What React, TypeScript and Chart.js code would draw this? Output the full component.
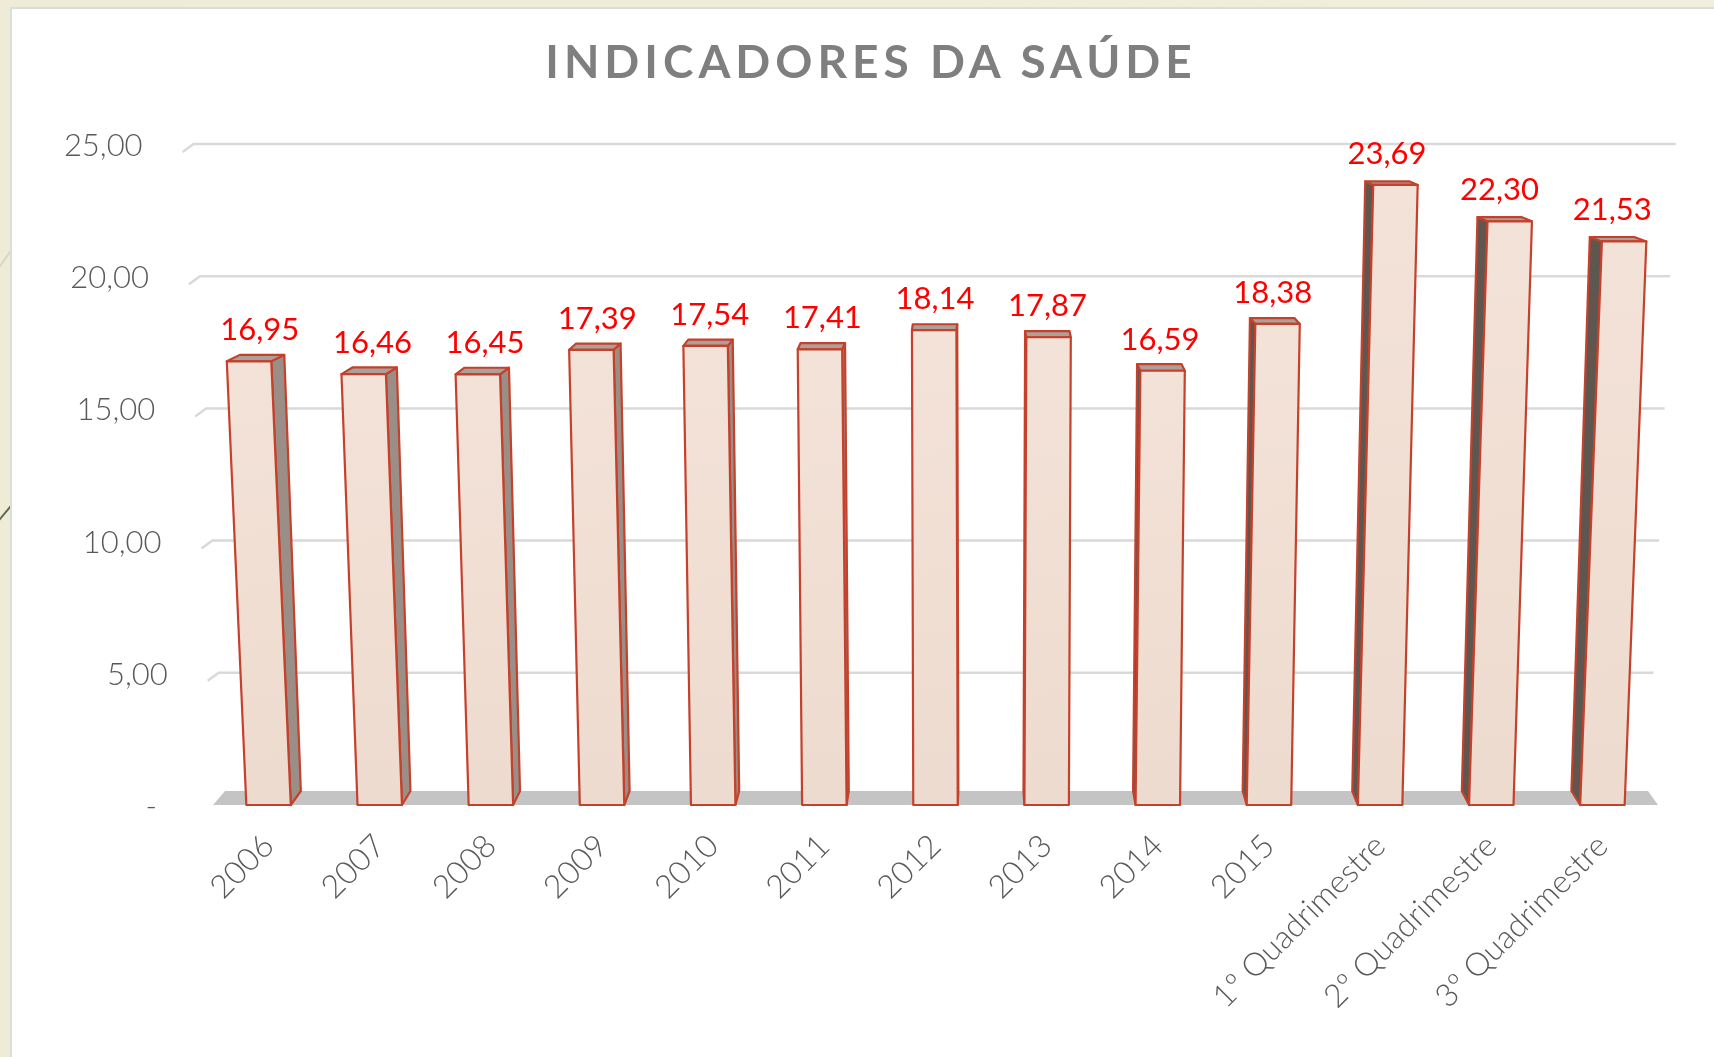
import React, { useEffect, useRef } from "react";
import { Chart, registerables } from "chart.js";

Chart.register(...registerables);

const categories = [
  "2006", "2007", "2008", "2009", "2010", "2011", "2012", "2013", "2014", "2015",
  "1º Quadrimestre", "2º Quadrimestre", "3º Quadrimestre",
];
const values = [16.95, 16.46, 16.45, 17.39, 17.54, 17.41, 18.14, 17.87, 16.59, 18.38, 23.69, 22.3, 21.53];
const yTicks = [0, 5, 10, 15, 20, 25];
const chartTitle = "INDICADORES DA SAÚDE";

const fmt = (v: number) => v.toFixed(2).replace(".", ",");

const LEAN = 0.0000619; // perspective lean
const K = 0.0141; // depth x offset factor
const K2 = 0.00067;
const FRONT = 0.99; // front face slightly in front of back wall

const centerX = (chart: any) => (chart.chartArea.left + chart.chartArea.right) / 2 + 45;

const bar3d = {
  id: "bar3d",
  beforeDatasetsDraw(chart: any) {
    const { ctx, chartArea, scales } = chart;
    const y = scales.y;
    const base = y.getPixelForValue(0);
    const cx = centerX(chart);
    ctx.save();
    // floor
    ctx.fillStyle = "#C4C4C4";
    ctx.beginPath();
    ctx.moveTo(chartArea.left, base);
    ctx.lineTo(chartArea.left + 12, base - 14);
    ctx.lineTo(chartArea.right - 10, base - 14);
    ctx.lineTo(chartArea.right, base);
    ctx.closePath();
    ctx.fill();
    // gridlines (back wall)
    ctx.strokeStyle = "#D9D9D9";
    ctx.lineWidth = 2.5;
    y.ticks.forEach((t: any) => {
      if (t.value === 0) return;
      const py = y.getPixelForValue(t.value);
      const h = base - py;
      const xl = chartArea.left + 12 + LEAN * (chartArea.left - cx) * h;
      const xr = chartArea.right - 10 + LEAN * (chartArea.right - cx) * h;
      ctx.beginPath();
      ctx.moveTo(xl - 11, py + 8);
      ctx.lineTo(xl, py);
      ctx.lineTo(xr, py);
      ctx.stroke();
    });
    // y tick labels (perspective-staggered)
    ctx.fillStyle = "#595959";
    ctx.font = "300 31px Lato";
    ctx.textAlign = "right";
    ctx.textBaseline = "middle";
    y.ticks.forEach((t: any) => {
      const py = y.getPixelForValue(t.value);
      const h = base - py;
      if (t.value === 0) {
        ctx.fillText("-", chartArea.left - 56, py + 2);
      } else {
        const xl = chartArea.left + LEAN * (chartArea.left - cx) * h;
        ctx.fillText(fmt(t.value), xl - 39, py + 2);
      }
    });
    ctx.restore();
  },
  afterDatasetsDraw(chart: any) {
    const { ctx } = chart;
    const cx = centerX(chart);
    const meta = chart.getDatasetMeta(0);
    const data = chart.data.datasets[0].data as number[];
    ctx.save();
    ctx.lineJoin = "round";
    meta.data.forEach((el: any, i: number) => {
      const { x, y: yTop, base, width } = el.getProps(["x", "y", "base", "width"], true);
      const h = (base - yTop) * FRONT;
      const top = base - h;
      const rel = x - cx;
      const s = LEAN * rel * h;
      const dxB = -K * rel;
      const dyB = -14;
      const dxT = -K * rel * (1 + K2 * h);
      const dyT = -(14 - 0.017 * h);
      const BL = [x - width / 2, base];
      const BR = [x + width / 2, base];
      const TL = [x - width / 2 + s, top];
      const TR = [x + width / 2 + s, top];
      const poly = (pts: number[][], fill: any) => {
        ctx.beginPath();
        ctx.moveTo(pts[0][0], pts[0][1]);
        for (let k = 1; k < pts.length; k++) ctx.lineTo(pts[k][0], pts[k][1]);
        ctx.closePath();
        ctx.fillStyle = fill;
        ctx.fill();
        ctx.strokeStyle = "#C4412C";
        ctx.lineWidth = 2.2;
        ctx.stroke();
      };
      if (rel < 0) {
        poly([BR, TR, [TR[0] + dxT, TR[1] + dyT], [BR[0] + dxB, BR[1] + dyB]], "#9B8E87");
      } else {
        poly([BL, TL, [TL[0] + dxT, TL[1] + dyT], [BL[0] + dxB, BL[1] + dyB]], "#5F5650");
      }
      poly([TL, TR, [TR[0] + dxT, TR[1] + dyT], [TL[0] + dxT, TL[1] + dyT]], "#ABA09A");
      const g = ctx.createLinearGradient(BL[0], top, BR[0], base);
      g.addColorStop(0, "#F3E2D8");
      g.addColorStop(1, "#EEDBCF");
      poly([BL, BR, TR, TL], g);
      // value label
      ctx.fillStyle = "#FF0000";
      ctx.font = "400 31px Lato";
      ctx.textAlign = "center";
      ctx.textBaseline = "middle";
      ctx.fillText(fmt(data[i]), x + 0.45 * s, top - 31);
    });
    ctx.restore();
  },
};

export default function App() {
  const ref = useRef<HTMLCanvasElement>(null);

  useEffect(() => {
    if (!ref.current) return;
    const chart = new Chart(ref.current, {
      type: "bar",
      data: {
        labels: categories,
        datasets: [
          {
            data: values,
            backgroundColor: "rgba(0,0,0,0)",
            borderWidth: 0,
            barPercentage: 0.5,
            categoryPercentage: 0.8,
          },
        ],
      },
      options: {
        responsive: false,
        animation: false,
        layout: { padding: { top: 144, right: 56, left: 0, bottom: 0 } },
        plugins: {
          legend: { display: false },
          tooltip: { enabled: false },
          title: { display: false },
        },
        scales: {
          x: {
            grid: { display: false, drawTicks: false },
            border: { display: false },
            ticks: {
              color: "#595959",
              font: { family: "Lato", size: 32, weight: "300" },
              maxRotation: 45,
              minRotation: 45,
              padding: 22,
              autoSkip: false,
            },
            afterFit: (s: any) => {
              s.height = 252;
            },
          },
          y: {
            min: 0,
            max: 25,
            grid: { display: false, drawTicks: false },
            border: { display: false },
            afterBuildTicks: (s: any) => {
              s.ticks = yTicks.map((v) => ({ value: v }));
            },
            ticks: { display: false },
            afterFit: (s: any) => {
              s.width = 213;
            },
          },
        },
      },
      plugins: [bar3d],
    });
    return () => chart.destroy();
  }, []);

  return (
    <div
      style={{
        position: "fixed",
        left: 0,
        top: 0,
        width: 1714,
        height: 1057,
        background: "linear-gradient(90deg, #EEEBD6, #F1EEDD)",
        overflow: "hidden",
      }}
    >
      <div
        style={{
          position: "absolute",
          left: -4,
          top: 258,
          width: 18,
          height: 2,
          background: "#D8D6C4",
          transform: "rotate(-55deg)",
        }}
      />
      <div
        style={{
          position: "absolute",
          left: -4,
          top: 512,
          width: 18,
          height: 2,
          background: "#5C6B4A",
          transform: "rotate(-50deg)",
        }}
      />
      <div
        style={{
          position: "absolute",
          left: 10,
          top: 7,
          right: 0,
          bottom: 0,
          background: "#FFFFFF",
          borderLeft: "2px solid #DCDCDC",
          borderTop: "2px solid #DCDCDC",
        }}
      />
      <canvas ref={ref} width={1714} height={1057} style={{ position: "absolute", left: 0, top: 0 }} />
      <div
        style={{
          position: "absolute",
          left: 871,
          top: 60,
          transform: "translate(-50%, -50%)",
          fontFamily: "Lato, sans-serif",
          fontWeight: 700,
          fontSize: 46,
          letterSpacing: 5,
          color: "#7F7F7F",
          whiteSpace: "nowrap",
        }}
      >
        {chartTitle}
      </div>
    </div>
  );
}
